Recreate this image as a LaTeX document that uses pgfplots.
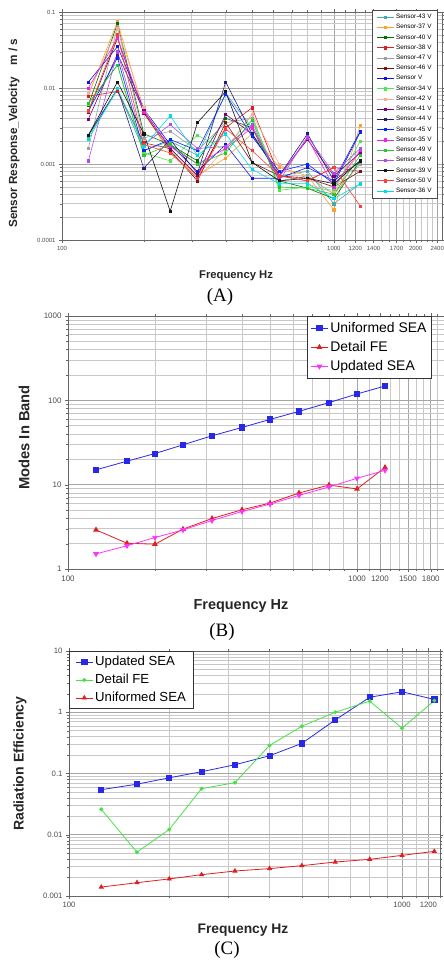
\documentclass[border=0pt]{standalone}
\usepackage{pgfplots}
\pgfplotsset{compat=1.18}
\usepackage{pgfplotstable}
\usepackage{fontspec}
\setmainfont{Liberation Sans}
\newfontfamily\capfont{Liberation Serif}

\definecolor{gridmin}{RGB}{200,200,200}
\definecolor{gridmaj}{RGB}{165,165,165}
\definecolor{c1}{RGB}{70,170,170}
\definecolor{c2}{RGB}{255,160,40}
\definecolor{c3}{RGB}{0,110,0}
\definecolor{c4}{RGB}{220,30,30}
\definecolor{c5}{RGB}{150,160,160}
\definecolor{c6}{RGB}{120,20,20}
\definecolor{c7}{RGB}{20,20,220}
\definecolor{c8}{RGB}{80,230,80}
\definecolor{c9}{RGB}{250,170,150}
\definecolor{c10}{RGB}{120,0,130}
\definecolor{c11}{RGB}{30,30,120}
\definecolor{c12}{RGB}{0,40,255}
\definecolor{c13}{RGB}{230,40,230}
\definecolor{c14}{RGB}{40,200,40}
\definecolor{c15}{RGB}{170,80,230}
\definecolor{c16}{RGB}{20,20,20}
\definecolor{c17}{RGB}{255,60,60}
\definecolor{c18}{RGB}{0,220,230}
\definecolor{seablue}{RGB}{40,40,230}
\definecolor{fered}{RGB}{225,30,30}
\definecolor{updmag}{RGB}{255,50,255}
\definecolor{fegreen}{RGB}{70,225,70}

% sensor velocities, one column per sensor
\pgfplotstableread{
f s1 s2 s3 s4 s5 s6 s7 s8 s9 s10 s11 s12 s13 s14 s15 s16 s17 s18
125 0.0023 0.008 0.006 0.0078 0.0016 0.0048 0.012 0.0062 0.0085 0.0039 0.0024 0.005 0.01 0.0063 0.0011 0.0024 0.005 0.0021
160 0.0095 0.075 0.07 0.009 0.065 0.045 0.035 0.02 0.06 0.028 0.0098 0.025 0.045 0.02 0.03 0.012 0.05 0.0098
200 0.0015 0.0047 0.0025 0.0019 0.0022 0.0047 0.0053 0.0014 0.0055 0.005 0.00088 0.0015 0.0048 0.0013 0.0018 0.0025 0.0018 0.0017
250 0.002 0.0014 0.0018 0.0016 0.0027 0.0015 0.0018 0.0011 0.0014 0.0016 0.0021 0.0021 0.0017 0.0018 0.0033 0.00024 0.0014 0.0043
315 0.0013 0.0007 0.0011 0.0007 0.0015 0.0006 0.0008 0.0024 0.00065 0.0007 0.00075 0.0015 0.001 0.001 0.0016 0.0035 0.00065 0.0013
400 0.0085 0.0012 0.004 0.003 0.0035 0.0035 0.0018 0.0015 0.0016 0.0045 0.012 0.0083 0.0016 0.0014 0.0017 0.009 0.0029 0.0025
500 0.003 0.0025 0.003 0.0055 0.004 0.00105 0.00065 0.0045 0.0045 0.0025 0.0025 0.0023 0.003 0.0038 0.0033 0.00105 0.0015 0.00085
630 0.0007 0.0009 0.0006 0.0007 0.0006 0.0007 0.00065 0.00045 0.001 0.0007 0.0007 0.0008 0.00068 0.0005 0.0006 0.0006 0.0007 0.00055
800 0.0008 0.0007 0.00048 0.0006 0.0007 0.00065 0.0009 0.0005 0.00055 0.0021 0.0025 0.001 0.0022 0.00048 0.0023 0.00065 0.0006 0.00055
1000 0.0003 0.00025 0.00035 0.0009 0.0004 0.0005 0.0006 0.00045 0.00042 0.0007 0.0006 0.00055 0.0005 0.0004 0.00075 0.00055 0.0009 0.00035
1250 0.00055 0.0032 0.0011 0.0008 0.001 0.0008 0.0027 0.002 0.0015 0.0014 0.0011 0.0026 0.0015 0.0013 0.0016 0.0011 0.00028 0.00055
}\sensordata

\pgfplotsset{
  every axis/.append style={
    scale only axis, xmin=100,
    axis line style={black!60, line width=1pt},
    grid=both,
    major grid style={gridmaj, line width=0.6pt},
    minor grid style={gridmin, line width=0.6pt},
    tick style={black!60},
    tick align=outside,
    major tick length=3bp, minor tick length=2bp,
    ticklabel style={black!70},
    label style={black!85},
    legend cell align=left,
  },
}

\begin{document}
\begin{tikzpicture}
\useasboundingbox (0,0) rectangle (444bp,-964bp);

% ---------- (A) ----------
\begin{loglogaxis}[
  at={(62bp,-12bp)}, anchor=north west,
  width=380bp, height=228bp,
  xmax=2500, ymin=0.0001, ymax=0.1,
  xtick={100,1000,1200,1400,1700,2000,2400},
  xticklabels={100,1000,1200,1400,1700,2000,2400},
  minor xtick={200,300,400,500,600,700,800,900,1100,1300,1500,1600,1800,1900,2100,2200,2300},
  ytick={0.0001,0.001,0.01,0.1},
  yticklabels={0.0001,0.001,0.01,0.1},
  minor ytick={2e-4,3e-4,4e-4,5e-4,6e-4,7e-4,8e-4,9e-4,2e-3,3e-3,4e-3,5e-3,6e-3,7e-3,8e-3,9e-3,0.02,0.03,0.04,0.05,0.06,0.07,0.08,0.09},
  ticklabel style={font=\fontsize{6}{6}\selectfont},
  xlabel={Frequency Hz},
  ylabel={Sensor Response\_Velocity\hspace{12bp}m / s},
  xlabel style={font=\fontsize{11.3}{12}\selectfont\bfseries, at={(axis description cs:0.458,-0.158)}, anchor=center},
  ylabel style={font=\fontsize{11.8}{12}\selectfont\bfseries, at={(axis description cs:-0.126,0.469)}, anchor=center},
  cycle list={{c1},{c2},{c3},{c4},{c5},{c6},{c7},{c8},{c9},{c10},{c11},{c12},{c13},{c14},{c15},{c16},{c17},{c18}},
  every axis plot/.append style={line width=0.6pt, mark=square*, mark size=1.1bp},
  legend style={at={(0.816,1.01)}, anchor=north west, draw=black!70, line width=0.8pt,
    font=\fontsize{6.4}{6.4}\selectfont, row sep=0.3bp, inner sep=2bp, inner xsep=4bp},
  legend entries={Sensor-43 V,Sensor-37 V,Sensor-40 V,Sensor-38 V,Sensor-47 V,Sensor-46 V,Sensor V,Sensor-34 V,Sensor-42 V,Sensor-41 V,Sensor-44 V,Sensor-45 V,Sensor-35 V,Sensor-49 V,Sensor-48 V,Sensor-39 V,Sensor-50 V,Sensor-36 V},
]
\pgfplotsinvokeforeach{1,...,18}{\addplot table[x=f, y=s#1] {\sensordata};}
\end{loglogaxis}
\node[font=\capfont\fontsize{19}{19}\selectfont] at (220bp,-297bp) {(A)};

% ---------- (B) ----------
\begin{loglogaxis}[
  at={(68bp,-316bp)}, anchor=north west,
  width=376bp, height=253bp,
  xmax=2000, ymin=1, ymax=1000,
  xtick={100,1000,1200,1500,1800},
  xticklabels={100,1000,1200,1500,1800},
  minor xtick={200,300,400,500,600,700,800,900,1100,1300,1400,1600,1700,1900},
  ytick={1,10,100,1000},
  yticklabels={1,10,100,1000},
  minor ytick={2,3,4,5,6,7,8,9,20,30,40,50,60,70,80,90,200,300,400,500,600,700,800,900},
  ticklabel style={font=\fontsize{8}{8}\selectfont},
  xlabel={Frequency Hz},
  ylabel={Modes In Band},
  xlabel style={font=\fontsize{14.5}{15}\selectfont\bfseries, at={(axis description cs:0.46,-0.146)}, anchor=center},
  ylabel style={font=\fontsize{14.8}{15}\selectfont\bfseries, at={(axis description cs:-0.117,0.52)}, anchor=center},
  legend style={at={(0.636,1)}, anchor=north west, draw=black!80, line width=0.8pt,
    font=\fontsize{14}{14}\selectfont, row sep=3.5bp, inner ysep=4bp, inner xsep=3bp},
]
\addplot[seablue, line width=0.8pt, mark=square*, mark size=2.6bp] coordinates {
(125,15) (160,19) (200,23.4) (250,29.7) (315,38) (400,47.7) (500,59.4) (630,74) (800,94) (1000,119) (1250,148)};
\addlegendentry{Uniformed SEA}
\addplot[fered, line width=0.8pt, mark=triangle*, mark size=2.6bp] coordinates {
(125,2.91) (160,2.02) (200,1.97) (250,2.97) (315,3.97) (400,5.04) (500,6.05) (630,7.97) (800,9.9) (1000,8.9) (1250,16)};
\addlegendentry{Detail FE}
\addplot[updmag, line width=0.8pt, mark=triangle*, mark size=2.6bp, mark options={rotate=180}] coordinates {
(125,1.51) (160,1.89) (200,2.36) (250,2.91) (315,3.76) (400,4.81) (500,5.89) (630,7.46) (800,9.4) (1000,11.9) (1250,14.8)};
\addlegendentry{Updated SEA}
\end{loglogaxis}
\node[font=\capfont\fontsize{19}{19}\selectfont] at (222bp,-632bp) {(B)};

% ---------- (C) ----------
\begin{loglogaxis}[
  at={(69bp,-651bp)}, anchor=north west,
  width=371bp, height=245bp,
  xmax=1300, ymin=0.001, ymax=10,
  xtick={100,1000,1200},
  xticklabels={100,1000,1200},
  minor xtick={200,300,400,500,600,700,800,900,1100,1300},
  ytick={0.001,0.01,0.1,1,10},
  yticklabels={0.001,0.01,0.1,1,10},
  minor ytick={2e-3,3e-3,4e-3,5e-3,6e-3,7e-3,8e-3,9e-3,0.02,0.03,0.04,0.05,0.06,0.07,0.08,0.09,0.2,0.3,0.4,0.5,0.6,0.7,0.8,0.9,2,3,4,5,6,7,8,9},
  ticklabel style={font=\fontsize{7.8}{8}\selectfont},
  xlabel={Frequency Hz},
  ylabel={Radiation Efficiency},
  xlabel style={font=\fontsize{13.9}{14}\selectfont\bfseries, at={(axis description cs:0.469,-0.139)}, anchor=center},
  ylabel style={font=\fontsize{14.1}{14}\selectfont\bfseries, at={(axis description cs:-0.132,0.54)}, anchor=center},
  legend style={at={(0,1)}, anchor=north west, draw=black!80, line width=0.8pt,
    font=\fontsize{13.2}{13}\selectfont, row sep=3bp, inner ysep=3bp, inner xsep=6bp},
]
\addplot[seablue, line width=0.8pt, mark=square*, mark size=2.6bp] coordinates {
(125,0.0545) (160,0.067) (200,0.085) (250,0.107) (315,0.139) (400,0.195) (500,0.31) (630,0.75) (800,1.76) (1000,2.16) (1250,1.62)};
\addlegendentry{Updated SEA}
\addplot[fegreen, line width=0.8pt, mark=*, mark size=1.6bp] coordinates {
(125,0.026) (160,0.0052) (200,0.0122) (250,0.0565) (315,0.071) (400,0.287) (500,0.59) (630,1.0) (800,1.52) (1000,0.55) (1250,1.55)};
\addlegendentry{Detail FE}
\addplot[fered, line width=0.8pt, mark=triangle*, mark size=2.3bp] coordinates {
(125,0.0014) (160,0.00165) (200,0.0019) (250,0.00223) (315,0.00256) (400,0.0028) (500,0.00313) (630,0.00359) (800,0.00397) (1000,0.00461) (1250,0.00536)};
\addlegendentry{Uniformed SEA}
\end{loglogaxis}
\node[font=\capfont\fontsize{19}{19}\selectfont] at (227bp,-950bp) {(C)};
\end{tikzpicture}
\end{document}
